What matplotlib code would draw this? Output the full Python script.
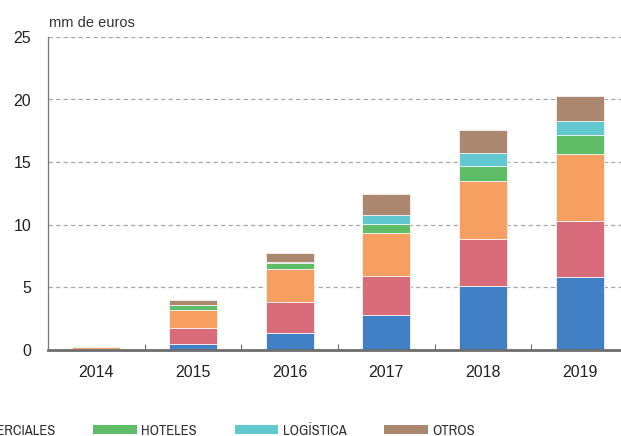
import numpy as np
import matplotlib
matplotlib.use("Agg")
import matplotlib.pyplot as plt
from matplotlib.patches import Patch
from matplotlib.transforms import IdentityTransform
from matplotlib import font_manager as fm

plt.rcParams['font.family'] = ['Liberation Sans', 'DejaVu Sans']

years = ['2014', '2015', '2016', '2017', '2018', '2019']
series = ['OFICINAS', 'RESIDENCIAL', 'LOCALES COMERCIALES', 'HOTELES', 'LOGÍSTICA', 'OTROS']
oficinas    = [0.00, 0.46, 1.34, 2.78, 5.06, 5.80]
residencial = [0.05, 1.28, 2.48, 3.08, 3.80, 4.46]
comerciales = [0.12, 1.40, 2.64, 3.44, 4.60, 5.40]
hoteles     = [0.00, 0.40, 0.46, 0.76, 1.24, 1.52]
logistica   = [0.00, 0.00, 0.05, 0.70, 1.04, 1.10]
otros       = [0.00, 0.42, 0.72, 1.70, 1.84, 2.02]
colors = ['#4180c4', '#d86c7a', '#f79f60', '#5fbd68', '#62c8d0', '#ac8770']

data = [oficinas, residencial, comerciales, hoteles, logistica, otros]

# narrow font for the legend, if one is installed
installed = {f.name for f in fm.fontManager.ttflist}
narrow = 'Liberation Sans'
for cand in ['Liberation Sans Narrow', 'Archivo Narrow', 'PT Sans Narrow',
             'Roboto Condensed', 'Encode Sans Condensed', 'Open Sans Condensed',
             'Pragati Narrow', 'Fira Sans Condensed', 'IBM Plex Sans Condensed']:
    if cand in installed:
        narrow = cand
        break

fig = plt.figure(figsize=(6.21, 4.36), dpi=100)
ax = fig.add_axes([48/621, 86.5/436, 580/621, 312.5/436])

x = np.arange(len(years))
bottom = np.zeros(len(years))
for vals, col, name in zip(data, colors, series):
    ax.bar(x, vals, 0.5, bottom=bottom, color=col, edgecolor='#f4f4f4',
           linewidth=0.6, label=name, zorder=3)
    bottom += np.array(vals)

ax.set_xlim(-0.5, 5.5)
ax.set_ylim(0, 25)
ax.set_yticks([0, 5, 10, 15, 20, 25])
for y in [5, 10, 15, 20, 25]:
    ax.axhline(y, color='#a8a8a8', linestyle=(0, (3.5, 2.5)), linewidth=0.9, zorder=1)

ax.set_xticks(x)
ax.set_xticklabels(years)
ax.set_xticks(x[:-1] + 0.5, minor=True)
ax.tick_params(axis='x', which='major', length=0, pad=11, labelsize=11.5, colors='#222222')
ax.tick_params(axis='x', which='minor', direction='in', length=4, width=0.8, color='#6d6d6d')
ax.tick_params(axis='y', length=0, pad=12, labelsize=11.5, colors='#222222')

for s in ['top', 'right']:
    ax.spines[s].set_visible(False)
ax.spines['left'].set_color('#777777')
ax.spines['left'].set_linewidth(0.9)
ax.spines['bottom'].set_color('#6d6d6d')
ax.spines['bottom'].set_linewidth(2)
ax.spines['bottom'].set_zorder(4)

fig.text(49/621, 1 - 23/436, 'mm de euros', fontsize=10.5, color='#333333', va='center')

# legend, clipped on the left like the original
handles = [Patch(facecolor=c, edgecolor='none') for c in colors]
leg = fig.legend(handles, series, ncol=6, loc='center left',
                 bbox_to_anchor=(0, 5/436), frameon=False,
                 handlelength=3.0, handleheight=0.6, handletextpad=0.3,
                 columnspacing=2.6, borderpad=0, borderaxespad=0,
                 prop={'family': [narrow, 'DejaVu Sans'], 'size': 10.5})
for t in leg.get_texts():
    t.set_color('#333333')

fig.canvas.draw()
r = fig.canvas.get_renderer()
px = leg.get_patches()[3].get_window_extent(r).x0
bb = leg.get_window_extent(r)
dx = 93 - px
leg.set_bbox_to_anchor((bb.x0 + dx, 5), transform=IdentityTransform())

fig.savefig('out.png', dpi=100)
